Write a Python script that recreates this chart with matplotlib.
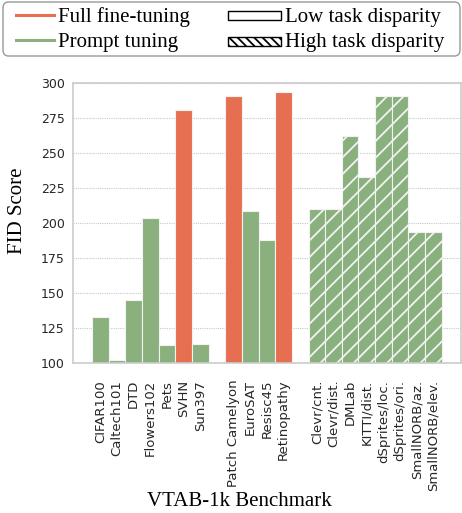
import matplotlib
matplotlib.use("Agg")
import matplotlib.pyplot as plt
from matplotlib.lines import Line2D
from matplotlib.patches import Patch, Rectangle, FancyBboxPatch
from matplotlib.legend_handler import HandlerPatch

# VTAB-1k tasks, grouped as Natural / Specialized / Structured
natural = ["CIFAR100", "Caltech101", "DTD", "Flowers102", "Pets", "SVHN", "Sun397"]
specialized = ["Patch Camelyon", "EuroSAT", "Resisc45", "Retinopathy"]
structured = ["Clevr/cnt.", "Clevr/dist.", "DMLab", "KITTI/dist.", "dSprites/loc.",
              "dSprites/ori.", "SmallNORB/az.", "SmallNORB/elev."]

natural_fid = [133, 102, 145, 204, 113, 281, 114]
specialized_fid = [291, 209, 188, 294]
structured_fid = [210, 210, 262, 233, 291, 291, 194, 194]

# which tuning method gives the best result per task
natural_best = ["prompt", "prompt", "prompt", "prompt", "prompt", "full", "prompt"]
specialized_best = ["full", "prompt", "prompt", "full"]
structured_best = ["prompt"] * 8

ORANGE = "#E76F51"
GREEN = "#8AB17D"
colors = {"full": ORANGE, "prompt": GREEN}

plt.rcParams["hatch.linewidth"] = 1.3

W, H = 462, 513
fig = plt.figure(figsize=(W / 100, H / 100), dpi=100)
ax = fig.add_axes([0.158, 0.292, 0.840, 0.546])

groups = [(natural, natural_fid, natural_best, ""),
          (specialized, specialized_fid, specialized_best, ""),
          (structured, structured_fid, structured_best, "//")]

ticks, labels = [], []
pos = 0
for names, vals, best, hatch in groups:
    for name, v, b in zip(names, vals, best):
        ax.bar(pos, v - 100, bottom=100, width=1.0, color=colors[b],
               edgecolor="#f2f2f2", linewidth=0.8, hatch=hatch, zorder=2)
        ticks.append(pos)
        labels.append(name)
        pos += 1
    pos += 1

ax.set_xticks(ticks)
ax.set_xticklabels(labels, rotation=90, fontsize=9.5, color="#262626")
ax.set_xlim(-1.64, pos - 1 + 0.08 - 0.5 + 1.08)
ax.set_ylim(100, 300)
ax.set_yticks(range(100, 301, 25))
ax.tick_params(axis="y", labelsize=9, colors="#262626", length=0, pad=6)
ax.tick_params(axis="x", length=0, pad=12)
ax.yaxis.grid(True, linestyle=(0, (1, 1)), color="#c8c8c8", linewidth=0.8, zorder=0)
ax.set_axisbelow(True)
for s in ax.spines.values():
    s.set_color("#cccccc")
    s.set_linewidth(1.2)

ax.set_ylabel("FID Score", fontsize=15, family="Liberation Serif")
ax.set_xlabel("VTAB-1k Benchmark", fontsize=15, family="Liberation Serif")
ax.yaxis.set_label_coords(-0.1186, 0.546)
ax.xaxis.set_label_coords(0.43, -0.461)


class WidePatchHandler(HandlerPatch):
    """Draws the legend swatch wider than the handle box, extending to the left."""
    def create_artists(self, legend, orig_handle, xdescent, ydescent,
                       width, height, fontsize, trans):
        extra = 11
        r = Rectangle((-xdescent - extra, -ydescent + height * 0.12),
                      width + extra, height * 0.62,
                      facecolor=orig_handle.get_facecolor(),
                      edgecolor=orig_handle.get_edgecolor(),
                      hatch=orig_handle.get_hatch(), linewidth=1.0,
                      transform=trans)
        return [r]


handles = [
    Line2D([0], [0], color=ORANGE, lw=2.2),
    Line2D([0], [0], color=GREEN, lw=2.2),
    Patch(facecolor="white", edgecolor="black", hatch=""),
    Patch(facecolor="white", edgecolor="black", hatch="\\\\\\\\"),
]
leg_labels = ["Full fine-tuning", "Prompt tuning", "Low task disparity", "High task disparity"]
leg = fig.legend(handles, leg_labels, ncol=2, loc="upper left",
                 bbox_to_anchor=(16 / W, 1 - 7 / H), frameon=False,
                 prop={"family": "Liberation Serif", "size": 15},
                 handlelength=1.8, handletextpad=0.2, columnspacing=2.6,
                 labelspacing=0.28, borderpad=0, borderaxespad=0,
                 handler_map={Patch: WidePatchHandler()})

# rounded frame around the legend
frame = FancyBboxPatch((3 / W, 1 - 56 / H), 457 / W, 54 / H,
                       boxstyle="round,pad=0,rounding_size=0.012",
                       transform=fig.transFigure, facecolor="none",
                       edgecolor="#999999", linewidth=1.0)
fig.patches.append(frame)

fig.savefig("out.png", dpi=100)
